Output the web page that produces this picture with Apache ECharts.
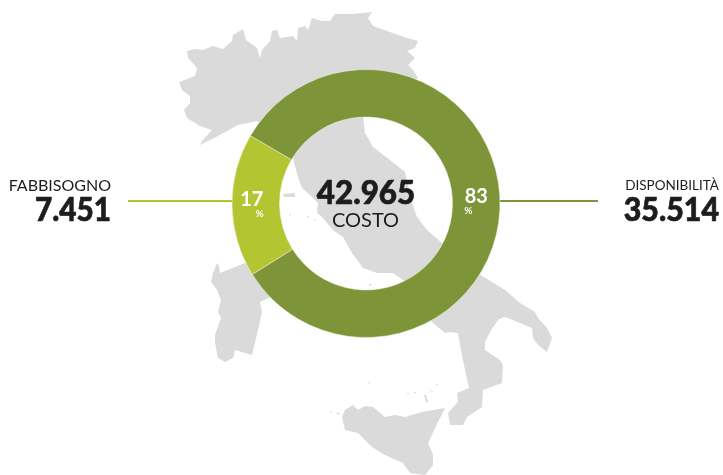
<!DOCTYPE html>
<html>
<head>
<meta charset="utf-8">
<title>Costo</title>
<style>
  html, body { margin: 0; padding: 0; background: #fff; }
  #chart { width: 723px; height: 475px; }
</style>
<script src="https://cdn.jsdelivr.net/npm/echarts@6/dist/echarts.min.js"></script>
</head>
<body>
<div id="chart"></div>
<script>
const categories = ['FABBISOGNO', 'DISPONIBILITÀ']
const values = [7451, 35514]
const totalValue = 42965
const totalLabel = 'COSTO'
const colors = ['#b3c631', '#7d9439']

// backdrop only: hand traced outline of Italy, in page pixels
const mainland = [[187,51],[195,49],[203,50],[213,46],[223,49],[232,41],[233,35],[243,29],[246,40],[257,48],[260,58],[262,50],[270,41],[272,31],[277,30],[280,38],[293,36],[297,41],[298,28],[305,26],[308,30],[312,18],[322,21],[330,21],[335,14],[353,14],[372,12],[368,18],[373,26],[387,31],[407,38],[418,41],[415,48],[407,51],[415,58],[408,65],[413,70],[418,78],[400,90],[363,100],[363,117],[365,133],[373,147],[390,160],[405,172],[412,203],[417,217],[427,230],[442,243],[482,276],[505,290],[520,303],[535,312],[538,318],[547,328],[552,338],[547,352],[538,345],[533,338],[532,328],[520,323],[508,318],[504,317],[498,320],[490,332],[485,342],[485,350],[500,360],[503,365],[502,383],[483,390],[482,407],[467,417],[463,425],[450,425],[448,413],[458,402],[457,393],[469,388],[465,370],[461,350],[458,333],[450,332],[445,333],[432,322],[420,300],[403,280],[393,273],[377,273],[363,268],[352,253],[343,237],[333,230],[322,217],[317,213],[318,203],[308,193],[302,188],[298,177],[293,158],[280,140],[257,121],[238,125],[218,136],[200,145],[202,141],[212,130],[200,126],[187,118],[184,110],[190,103],[190,96],[182,90],[179,82],[195,76],[197,68],[188,58]]
const sardinia = [[217,263],[213,273],[211,282],[217,290],[221,300],[218,312],[221,318],[215,335],[215,343],[218,358],[225,362],[233,358],[235,350],[252,355],[258,330],[262,312],[260,302],[275,295],[260,270],[245,263],[220,273],[219,266]]
const sicily = [[342,417],[345,410],[353,405],[358,410],[365,406],[373,407],[385,417],[395,415],[405,417],[422,412],[445,408],[438,422],[428,443],[433,455],[433,465],[425,475],[410,473],[403,463],[385,455],[372,447],[358,433],[345,430]]
const islets = [
  [[283,194],[295,193],[295,197],[284,197]],
  [[424,395],[426,395],[428,402],[426,402]],
  [[330,411],[332,412],[331,414]],
  [[336,413],[339,412],[339,415]],
  [[368,382],[370,382],[369,384]],
  [[407,393],[409,393],[408,395]],
  [[414,392],[416,392],[415,394]],
  [[431,391],[433,391],[432,393]],
  [[436,384],[438,384],[437,386]],
  [[289,214],[291,214],[290,216]],
  [[307,216],[309,216],[308,218]],
  [[314,219],[316,219],[315,221]],
  [[369,284],[372,284],[370,286]]
]

const formatNumber = n => String(n).replace(/\B(?=(\d{3})+$)/g, '.')

const font = 'Lato, "Open Sans", sans-serif'
const darkText = '#1d1d1b'
const mapColor = '#dadada'

const mapShapes = [mainland, sardinia, sicily, ...islets].map(points => ({
  type: 'polygon',
  z: -1,
  silent: true,
  shape: { points: points },
  style: { fill: mapColor }
}))

// thick > 0 fattens the big numbers, Lato Black is still lighter than the original
function textItem(x, y, text, align, size, weight, scaleX, thick) {
  return {
    type: 'text',
    z: 5,
    silent: true,
    x: x,
    y: y,
    scaleX: scaleX,
    style: {
      text: text,
      align: align,
      verticalAlign: 'middle',
      fontFamily: font,
      fontSize: size,
      fontWeight: weight,
      fill: darkText,
      stroke: thick ? darkText : null,
      lineWidth: thick || 0
    }
  }
}

function leader(x1, x2, color) {
  return {
    type: 'line',
    z: 1,
    silent: true,
    shape: { x1: x1, y1: 201, x2: x2, y2: 201 },
    style: { stroke: color, lineWidth: 2 }
  }
}

const chart = echarts.init(document.getElementById('chart'), null, { renderer: 'canvas' })

chart.setOption({
  animation: false,
  backgroundColor: '#fff',
  graphic: [
    ...mapShapes,
    leader(128, 234, colors[0]),
    leader(498, 598, colors[1]),
    textItem(111, 185.5, categories[0], 'right', 16, 400, 1, 0),
    textItem(111, 210, formatNumber(values[0]), 'right', 33, 900, 0.9, 0.7),
    textItem(719, 185.5, categories[1], 'right', 13.5, 400, 1, 0),
    textItem(719, 210, formatNumber(values[1]), 'right', 33, 900, 0.92, 0.7),
    textItem(366, 193.5, formatNumber(totalValue), 'center', 33, 900, 0.95, 0.7),
    textItem(365.5, 220.5, totalLabel, 'center', 20, 400, 1, 0)
  ],
  series: [{
    type: 'pie',
    silent: true,
    center: [366, 203.5],
    radius: [86.5, 134],
    startAngle: 212,
    clockwise: true,
    itemStyle: { borderColor: '#f4f6e4', borderWidth: 0.5 },
    labelLine: { show: false },
    label: {
      show: true,
      position: 'inside',
      fontFamily: font,
      color: '#fff'
    },
    data: categories.map((name, i) => ({
      name: name,
      value: values[i],
      itemStyle: { color: colors[i] },
      label: {
        offset: [i === 0 ? -1 : -3, 0],
        formatter: params => `{n|${Math.round(params.percent)}}\n{p|%}`,
        rich: {
          n: { fontFamily: font, fontSize: 20, fontWeight: 700, color: '#fff', lineHeight: 17, width: 24, align: 'center' },
          p: { fontFamily: font, fontSize: 10, fontWeight: 700, color: '#fff', lineHeight: 11, width: 24, align: i === 0 ? 'right' : 'left' }
        }
      }
    }))
  }]
})
</script>
</body>
</html>
